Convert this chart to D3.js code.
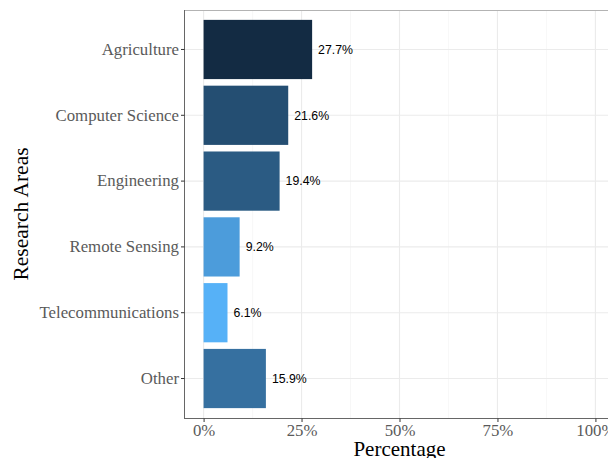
<!DOCTYPE html>
<html><head><meta charset="utf-8">
<script src="https://cdn.jsdelivr.net/npm/d3@7"></script>
<style>body{margin:0;background:#fff}svg{display:block}</style>
</head><body>
<script>
const categories = ["Agriculture","Computer Science","Engineering","Remote Sensing","Telecommunications","Other"];
const values = [27.7, 21.6, 19.4, 9.2, 6.1, 15.9];
const xTicks = [0, 25, 50, 75, 100];
const xTickLabels = ["0%","25%","50%","75%","100%"];

const W = 608, H = 458;
const m = {left:184, top:10, bottom:40};
const svg = d3.select("body").append("svg").attr("width",W).attr("height",H);

const x = d3.scaleLinear().domain([-5,105]).range([m.left, m.left + 431]);
const y = d3.scaleBand().domain(categories).range([m.top, H - m.bottom]).paddingInner(0.1).paddingOuter(0.15);
const fill = d3.scaleLinear().domain([d3.max(values), d3.min(values)]).range(["#132B43","#56B1F7"]).interpolate(d3.interpolateLab);

const pT = m.top, pB = H - m.bottom, pL = m.left, pR = x(105);
const g = svg.append("g");
const minor = [12.5, 37.5, 62.5, 87.5];
g.selectAll(".minor").data(minor).join("line")
  .attr("x1",d=>x(d)).attr("x2",d=>x(d)).attr("y1",pT).attr("y2",pB)
  .attr("stroke","#f2f2f2").attr("stroke-width",0.6);
g.selectAll(".major").data(xTicks).join("line")
  .attr("x1",d=>x(d)).attr("x2",d=>x(d)).attr("y1",pT).attr("y2",pB)
  .attr("stroke","#ebebeb").attr("stroke-width",1.1);
g.selectAll(".hmajor").data(categories).join("line")
  .attr("x1",pL).attr("x2",pR).attr("y1",d=>y(d)+y.bandwidth()/2).attr("y2",d=>y(d)+y.bandwidth()/2)
  .attr("stroke","#ebebeb").attr("stroke-width",1.1);

g.selectAll(".bar").data(categories).join("rect")
  .attr("x",x(0)).attr("y",d=>y(d))
  .attr("width",(d,i)=>x(values[i])-x(0)).attr("height",y.bandwidth())
  .attr("fill",(d,i)=>fill(values[i]));

g.selectAll(".lab").data(categories).join("text")
  .attr("x",(d,i)=>x(values[i])+6).attr("y",d=>y(d)+y.bandwidth()/2)
  .attr("dy","0.35em").attr("font-family","Liberation Sans, Arial, sans-serif").attr("font-size",12.3)
  .attr("fill","#000").text((d,i)=>values[i].toFixed(1)+"%");

svg.append("rect").attr("x",pL+0.5).attr("y",pT+0.5).attr("width",pR-pL).attr("height",pB-pT)
  .attr("fill","none").attr("stroke","#b3b3b3").attr("stroke-width",1);
svg.append("line").attr("x1",pL+0.5).attr("x2",pL+0.5).attr("y1",pT).attr("y2",pB+0.5).attr("stroke","#666").attr("stroke-width",1);
svg.append("line").attr("x1",pL).attr("x2",pR).attr("y1",pB+0.5).attr("y2",pB+0.5).attr("stroke","#666").attr("stroke-width",1);

const yAxis = svg.append("g").attr("transform",`translate(${pL+0.5},0)`)
  .call(d3.axisLeft(y).tickSize(3.5).tickPadding(2));
yAxis.select(".domain").remove();
yAxis.selectAll(".tick line").attr("stroke","#333");
yAxis.selectAll("text").attr("font-family","Liberation Serif, serif").attr("font-size",16.8).attr("fill","#5a5a5a");

const xAxis = svg.append("g").attr("transform",`translate(0,${pB+0.5})`)
  .call(d3.axisBottom(x).tickValues(xTicks).tickFormat((d,i)=>xTickLabels[i]).tickSize(3.5).tickPadding(2));
xAxis.select(".domain").remove();
xAxis.selectAll(".tick line").attr("stroke","#333");
xAxis.selectAll("text").attr("font-family","Liberation Serif, serif").attr("font-size",16.8).attr("fill","#5a5a5a");

svg.append("text").attr("x",(pL+pR)/2).attr("y",456).attr("text-anchor","middle")
  .attr("font-family","Liberation Serif, serif").attr("font-size",21).attr("fill","#000").text("Percentage");
svg.append("text").attr("transform",`translate(28,${(pT+pB)/2}) rotate(-90)`).attr("text-anchor","middle")
  .attr("font-family","Liberation Serif, serif").attr("font-size",21.5).attr("fill","#000").text("Research Areas");
</script>
</body></html>
